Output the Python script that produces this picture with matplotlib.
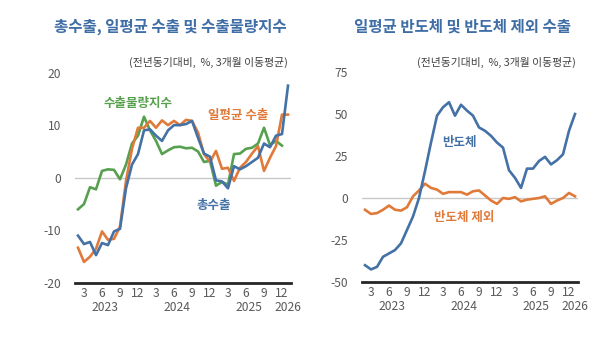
import numpy as np
import pandas as pd
import matplotlib
matplotlib.use("Agg")
import matplotlib.pyplot as plt

plt.rcParams['font.family'] = ['Noto Sans CJK KR', 'DejaVu Sans']
plt.rcParams['axes.unicode_minus'] = False

# monthly categories, Feb 2023 .. Jan 2026
months = pd.date_range('2023-02-01', periods=36, freq='MS')

# left panel (YoY %, 3m moving average)
total_exports = [-11.0, -12.6, -12.2, -14.7, -12.4, -12.8, -10.2, -9.7, -2.0, 2.5, 4.5, 9.0,
                 9.2, 8.0, 7.0, 9.0, 10.0, 10.0, 10.2, 10.8, 7.6, 4.6, 4.0, -0.5,
                 -0.7, -2.0, 2.2, 1.6, 2.2, 3.0, 3.8, 6.5, 5.8, 8.0, 8.3, 17.5]
daily_exports = [-13.3, -16.0, -15.0, -13.5, -10.2, -11.8, -11.6, -9.3, -0.6, 5.5, 9.5, 9.5,
                 10.8, 9.5, 10.9, 10.0, 10.8, 10.0, 11.0, 10.8, 8.6, 4.5, 3.0, 5.1,
                 1.7, 1.9, -0.6, 1.9, 3.0, 4.6, 6.0, 1.3, 3.8, 6.0, 12.0, 12.0]
volume_index = [-6.0, -5.0, -1.8, -2.2, 1.3, 1.6, 1.5, -0.3, 2.5, 6.5, 8.0, 11.6,
                9.0, 7.0, 4.5, 5.2, 5.8, 5.9, 5.6, 5.7, 5.0, 3.0, 3.2, -1.5,
                -0.8, -1.3, 4.5, 4.6, 5.5, 5.7, 6.5, 9.5, 6.2, 7.0, 6.1, np.nan]

# right panel
semis = [-40, -42.5, -41, -35, -33, -31, -27, -19, -11, 0, 16, 33,
         49, 54, 57, 49, 55.5, 52, 49, 42, 40, 37, 33, 30,
         16.5, 12, 6, 17.5, 17.5, 22, 24.5, 20, 22.5, 26, 40, 50]
ex_semis = [-7, -9.5, -9, -7, -4.5, -7, -7.5, -5.5, 1.0, 4.5, 8.5, 6,
            5, 2.5, 3.5, 3.5, 3.5, 2, 4, 4.5, 1.5, -1.5, -3.5, 0,
            -0.5, 0.5, -2, -1, -0.5, 0, 1, -3.5, -1.5, 0, 3, 1]

BLUE = '#4471A6'
ORANGE = '#E07A3A'
GREEN = '#56A04E'
TITLE = '#3F6EA6'
GREY = '#595959'

x = np.arange(len(months))
tick_idx = [i for i, m in enumerate(months) if m.month % 3 == 0]
tick_lab = [str(months[i].month) for i in tick_idx]
years = sorted(set(m.year for m in months))

fig = plt.figure(figsize=(6.12, 3.43), dpi=100)
ax1 = fig.add_axes([75 / 612, 60 / 343, 216 / 612, 210.5 / 343])
ax2 = fig.add_axes([362 / 612, 61 / 343, 216 / 612, 210 / 343])


def style(ax, ylim, yticks):
    ax.set_xlim(-0.5, len(months) - 0.5)
    ax.set_ylim(*ylim)
    ax.set_yticks(yticks)
    for s in ['top', 'right', 'left']:
        ax.spines[s].set_visible(False)
    ax.spines['bottom'].set_color('#262626')
    ax.spines['bottom'].set_linewidth(2)
    ax.axhline(0, color='#C8C8C8', lw=1, zorder=0)
    ax.set_xticks(tick_idx)
    ax.set_xticklabels(tick_lab)
    ax.tick_params(axis='x', length=0, pad=3, labelsize=8.7, labelcolor=GREY)
    ax.tick_params(axis='y', length=0, pad=10, labelsize=8.7, labelcolor=GREY)
    # year labels centred under each calendar year
    for yr in years:
        idx = [i for i, m in enumerate(months) if m.year == yr]
        if yr == 2023:
            pos = idx[-1] - 5.5
        elif yr == years[-1]:
            pos = idx[0]
        else:
            pos = idx[0] + 5.5
        ax.text(pos, -0.118, str(yr), transform=ax.get_xaxis_transform(),
                ha='center', va='center', fontsize=8.7, color=GREY)


style(ax1, (-20, 20), [-20, -10, 0, 10, 20])
ax1.plot(x, volume_index, color=GREEN, lw=1.9)
ax1.plot(x, daily_exports, color=ORANGE, lw=1.9)
ax1.plot(x, total_exports, color=BLUE, lw=1.9)
ax1.text(10, 14.1, '수출물량지수', color=GREEN, fontsize=9, fontweight='bold', ha='center', va='center')
ax1.text(26.7, 11.8, '일평균 수출', color=ORANGE, fontsize=9, fontweight='bold', ha='center', va='center')
ax1.text(22.7, -5.3, '총수출', color=BLUE, fontsize=9, fontweight='bold', ha='center', va='center')

style(ax2, (-50, 75), [-50, -25, 0, 25, 50, 75])
ax2.plot(x, ex_semis, color=ORANGE, lw=1.9)
ax2.plot(x, semis, color=BLUE, lw=1.9)
ax2.text(15.8, 33, '반도체', color=BLUE, fontsize=9, fontweight='bold', ha='center', va='center')
ax2.text(16.5, -11.6, '반도체 제외', color=ORANGE, fontsize=9, fontweight='bold', ha='center', va='center')

fig.text(170 / 612, 1 - 27 / 343, '총수출, 일평균 수출 및 수출물량지수', color=TITLE,
         fontsize=11.2, fontweight='bold', ha='center', va='center')
fig.text(463 / 612, 1 - 27 / 343, '일평균 반도체 및 반도체 제외 수출', color=TITLE,
         fontsize=11.2, fontweight='bold', ha='center', va='center')
fig.text(288 / 612, 1 - 62 / 343, '(전년동기대비,  %, 3개월 이동평균)', color='#404040',
         fontsize=7.8, ha='right', va='center')
fig.text(576 / 612, 1 - 62 / 343, '(전년동기대비,  %, 3개월 이동평균)', color='#404040',
         fontsize=7.8, ha='right', va='center')

fig.savefig('out.png', dpi=100, facecolor='white')
